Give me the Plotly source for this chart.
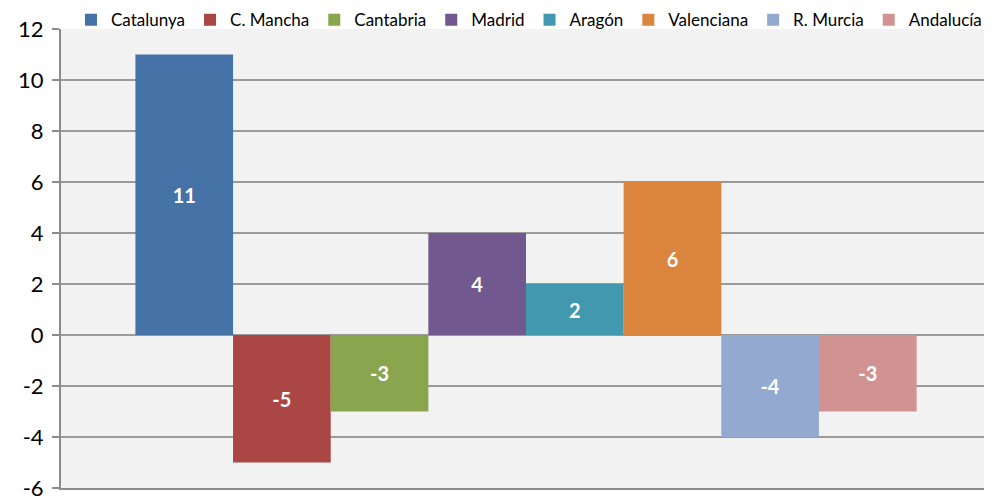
import plotly.graph_objects as go

# data
regions = ['Catalunya', 'C. Mancha', 'Cantabria', 'Madrid', 'Aragón', 'Valenciana', 'R. Murcia', 'Andalucía']
values = [11, -5, -3, 4, 2, 6, -4, -3]
colors = ['#4572A7', '#AA4643', '#89A54E', '#71588F', '#4198AF', '#DB843D', '#93A9CF', '#D19392']
y_ticks = list(range(-6, 13, 2))

fig = go.Figure()
for name, val, col in zip(regions, values, colors):
    fig.add_trace(go.Bar(
        x=[''], y=[val], name=name, marker=dict(color=col, line=dict(width=0)),
        text=[str(val)], textposition='inside', insidetextanchor='middle',
        textfont=dict(color='white', size=20, family='Lato', weight='bold'),
        hoverinfo='skip',
    ))

# page body has an 8px margin, so the figure is shifted by 8px right/down
fig.update_layout(
    width=984, height=492,
    margin=dict(l=53, r=1, t=21, b=12, autoexpand=False),
    barmode='group', bargap=0.16, bargroupgap=0,
    paper_bgcolor='white', plot_bgcolor='#F2F2F2',
    font=dict(family='Lato', color='black'),
    legend=dict(orientation='h', x=0.064, xanchor='left', y=0.975, yanchor='middle',
                yref='container', xref='container', font=dict(size=17), itemwidth=30,
                traceorder='normal', bgcolor='rgba(0,0,0,0)'),
)
fig.update_xaxes(showticklabels=False, showgrid=False, zeroline=False,
                 showline=True, linecolor='#8C8C8C', linewidth=2)
fig.update_yaxes(range=[-6, 12], tickvals=y_ticks, ticktext=[str(v) for v in y_ticks],
                 showgrid=True, gridcolor='#9A9A9A', gridwidth=1.5,
                 zeroline=False, showline=True, linecolor='#8C8C8C', linewidth=2,
                 ticks='outside', ticklen=7, tickcolor='#8C8C8C', tickwidth=1.5,
                 tickfont=dict(size=22), ticklabelstandoff=4, ticklabeloverflow='allow')

fig.write_html("out.html")
